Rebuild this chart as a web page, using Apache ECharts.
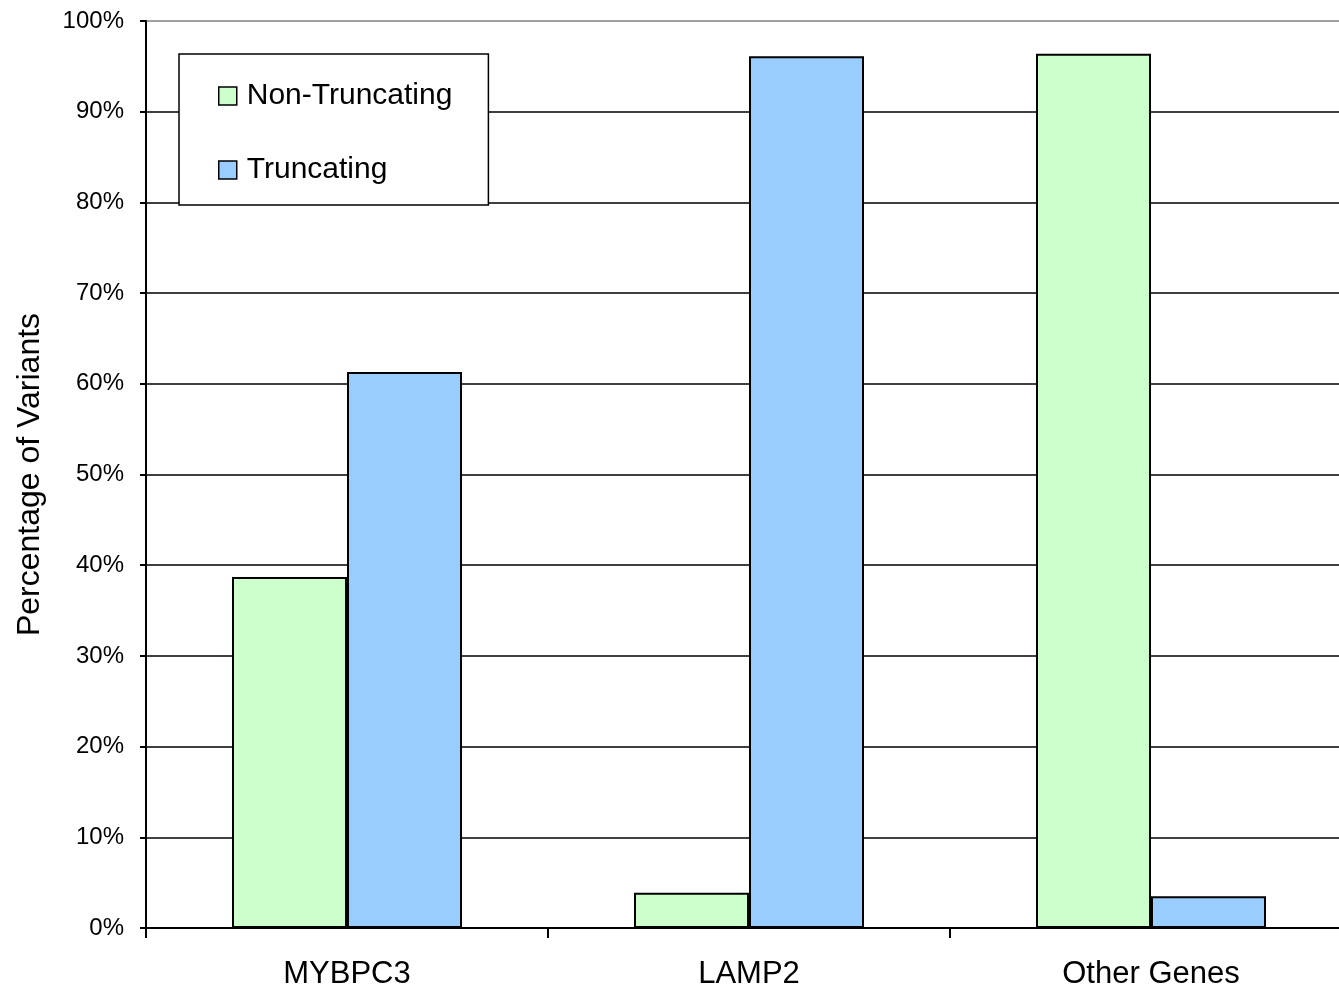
<!DOCTYPE html>
<html>
<head>
<meta charset="utf-8">
<script src="https://cdn.jsdelivr.net/npm/echarts@6/dist/echarts.min.js"></script>
<style>html,body{margin:0;padding:0;background:#fff;}#c{width:1339px;height:987px;}</style>
</head>
<body>
<div id="c"></div>
<script>
const categories = ['MYBPC3', 'LAMP2', 'Other Genes'];
const nonTruncating = [38.7, 3.9, 96.4];
const truncating = [61.3, 96.1, 3.5];
const seriesNames = ['Non-Truncating', 'Truncating'];
const yTicks = [0, 10, 20, 30, 40, 50, 60, 70, 80, 90, 100];

const FONT = 'Liberation Sans, Arial, sans-serif';
const chart = echarts.init(document.getElementById('c'), null, {renderer: 'canvas'});
const gridColors = yTicks.map((v, i) => i === yTicks.length - 1 ? '#808080' : '#000');
chart.setOption({
  animation: false,
  backgroundColor: '#fff',
  textStyle: {fontFamily: FONT, color: '#000'},
  grid: {left: 146, top: 21, right: -13, bottom: 59, containLabel: false, outerBoundsMode: 'none'},
  legend: {
    data: seriesNames,
    orient: 'vertical',
    left: 179, top: 54,
    backgroundColor: '#fff',
    borderColor: '#000', borderWidth: 1.5,
    padding: [27, 36, 20, 39],
    itemGap: 44,
    itemWidth: 18, itemHeight: 18,
    icon: 'rect',
    itemStyle: {borderColor: '#000', borderWidth: 1.5},
    textStyle: {fontSize: 30, fontFamily: FONT, color: '#000', padding: [0, 0, 0, 5]}
  },
  xAxis: {
    type: 'category',
    data: categories,
    axisLine: {lineStyle: {color: '#000', width: 2}},
    axisTick: {show: true, alignWithLabel: false, length: 10, lineStyle: {color: '#000', width: 2}},
    axisLabel: {fontSize: 31, color: '#000', fontFamily: FONT, margin: 31},
    splitLine: {show: false}
  },
  yAxis: {
    type: 'value',
    min: 0, max: 100, interval: 10,
    name: 'Percentage of Variants',
    nameLocation: 'middle',
    nameGap: 100,
    nameTextStyle: {fontSize: 32, color: '#000', fontFamily: FONT},
    axisLine: {show: true, lineStyle: {color: '#000', width: 2}},
    axisTick: {show: true, inside: false, length: 6, lineStyle: {color: '#000', width: 2}},
    axisLabel: {fontSize: 24, color: '#000', fontFamily: FONT, margin: 22, formatter: '{value}%'},
    splitLine: {show: true, lineStyle: {color: gridColors, width: 1.5}}
  },
  series: [
    {name: seriesNames[0], type: 'bar', data: nonTruncating, barWidth: 115, barGap: '0%',
     itemStyle: {color: '#CCFFCC', borderColor: '#000', borderWidth: 2}},
    {name: seriesNames[1], type: 'bar', data: truncating, barWidth: 115, barGap: '0%',
     itemStyle: {color: '#99CCFF', borderColor: '#000', borderWidth: 2}}
  ]
});
</script>
</body>
</html>
